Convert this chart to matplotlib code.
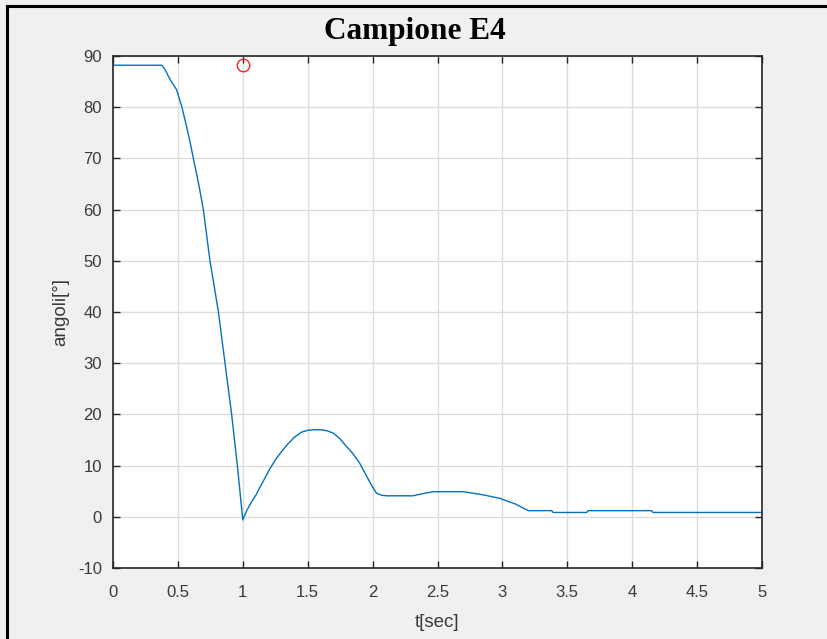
import matplotlib
matplotlib.use('Agg')
import matplotlib.pyplot as plt
from matplotlib.lines import Line2D

# curve (time in seconds, angle in degrees)
t = [0.0, 0.375, 0.40, 0.44, 0.49, 0.53, 0.555, 0.593, 0.619, 0.66, 0.696,
     0.747, 0.78, 0.812, 0.863, 0.914, 0.958, 1.0, 1.03, 1.06, 1.10, 1.15,
     1.20, 1.25, 1.30, 1.35, 1.40, 1.45, 1.50, 1.55, 1.60, 1.65, 1.70, 1.75,
     1.80, 1.85, 1.90, 1.95, 2.00, 2.03, 2.07, 2.11, 2.31, 2.40, 2.47,
     2.70, 2.85, 2.98, 3.10, 3.20, 3.38, 3.39, 3.65, 3.66, 4.15, 4.16, 5.0]
angle = [88.2, 88.2, 87.4, 85.4, 83.4, 80.1, 77.5, 73.3, 70.0, 65.0, 60.0,
         50.0, 45.0, 40.0, 30.0, 20.0, 10.0, -0.6, 1.2, 2.6, 4.2, 6.6,
         9.0, 11.1, 12.8, 14.3, 15.6, 16.5, 16.9, 17.0, 17.0, 16.8, 16.3, 15.2,
         13.7, 12.3, 10.5, 8.1, 5.8, 4.6, 4.2, 4.1, 4.1, 4.6, 4.9,
         4.9, 4.3, 3.6, 2.5, 1.2, 1.2, 0.85, 0.85, 1.2, 1.2, 0.85, 0.85]

marker_t = [1.0]
marker_angle = [88.2]

xticks = [0, 0.5, 1, 1.5, 2, 2.5, 3, 3.5, 4, 4.5, 5]
xticklabels = ['0', '0.5', '1', '1.5', '2', '2.5', '3', '3.5', '4', '4.5', '5']
yticks = list(range(-10, 91, 10))

plt.rcParams['axes.unicode_minus'] = False

W, H = 827, 639
fig = plt.figure(figsize=(W / 100, H / 100), dpi=100)
fig.patch.set_facecolor('#f0f0f0')

ax = fig.add_axes([113 / W, 1 - 568 / H, (762 - 113) / W, (568 - 56) / H])
ax.set_facecolor('white')

ax.plot(t, angle, color='#0072BD', linewidth=1.0)
ax.plot(marker_t, marker_angle, 'o', markerfacecolor='none',
        markeredgecolor='#ff2020', markersize=9, markeredgewidth=1.0)

ax.set_xlim(0, 5)
ax.set_ylim(-10, 90)
ax.set_xticks(xticks)
ax.set_xticklabels(xticklabels)
ax.set_yticks(yticks)

ax.grid(True, color='#dcdcdc', linewidth=1.0)
ax.set_axisbelow(True)
for s in ax.spines.values():
    s.set_color('#262626')
    s.set_linewidth(1.2)
ax.tick_params(direction='in', top=True, right=True, length=5, width=1.0,
               colors='#262626', labelsize=12, labelcolor='#3a3a3a')
ax.tick_params(axis='x', pad=12)
ax.tick_params(axis='y', pad=8)
for lab in ax.get_xticklabels() + ax.get_yticklabels():
    lab.set_fontfamily('Liberation Sans')

ax.set_xlabel('t[sec]', fontsize=13.5, color='#3a3a3a', family='Liberation Sans',
              labelpad=10)
ax.set_ylabel('angoli[°]', fontsize=13.5, color='#3a3a3a', family='Liberation Sans',
              labelpad=6)

fig.text(415 / W, 1 - 32 / H, 'Campione E4', ha='center', va='center',
         fontsize=22.5, fontweight='bold', family='Liberation Serif', color='black')

# black frame of the screenshot (top and left edges)
fig.add_artist(Line2D([7 / W, 1], [1 - 6 / H, 1 - 6 / H], color='black',
                      linewidth=2.2, transform=fig.transFigure))
fig.add_artist(Line2D([7 / W, 7 / W], [0, 1 - 6 / H], color='black',
                      linewidth=2.2, transform=fig.transFigure))

fig.savefig('out.png', dpi=100, facecolor=fig.get_facecolor())
